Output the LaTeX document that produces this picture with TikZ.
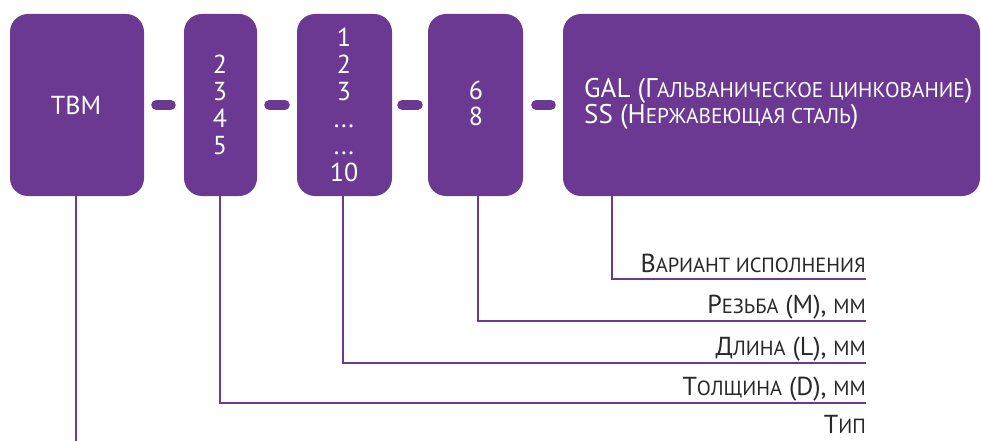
\documentclass[tikz,border=0pt]{standalone}
\usepackage{fontspec}
\setmainfont{PT Sans}
\definecolor{vio}{RGB}{107,57,145}
\definecolor{txt}{RGB}{40,40,40}
\newcommand\smc[1]{{\fontsize{20.5}{20}\selectfont #1}}
\newcommand\smcb[1]{{\fontsize{21.3}{20}\selectfont #1}}
\begin{document}
\begin{tikzpicture}[x=1pt,y=-1pt,
  box/.style={fill=vio,rounded corners=18pt,minimum height=182pt,inner sep=0pt,draw=none},
  wt/.style={text=white,font=\fontsize{26}{26}\selectfont,inner sep=0pt,anchor=base},
  wtb/.style={text=white,font=\fontsize{27}{27}\selectfont,inner sep=0pt,anchor=base west,text height=19pt,text depth=3pt},
  lab/.style={text=txt,font=\fontsize{26}{26}\selectfont,inner sep=0pt,anchor=base east},
  link/.style={vio,line width=10pt,line cap=round},
  lead/.style={vio,line width=2pt}]
\useasboundingbox (0,0) rectangle (981,441);
% boxes
\node[box,minimum width=134pt] (b1) at (77,105) {};
\node[box,minimum width=73pt] (b2) at (220.5,105) {};
\node[box,minimum width=95pt] (b3) at (344.5,105) {};
\node[box,minimum width=95pt] (b4) at (475.5,105) {};
\node[box,minimum width=417pt] (b5) at (771.5,105) {};
% dashes
\draw[link] ([xshift=12pt]b1.east) -- ([xshift=-13pt]b2.west);
\draw[link] ([xshift=12pt]b2.east) -- ([xshift=-12pt]b3.west);
\draw[link] ([xshift=10pt]b3.east) -- ([xshift=-10pt]b4.west);
\draw[link] ([xshift=13pt]b4.east) -- ([xshift=-12pt]b5.west);
% texts in boxes
\node[wt] (t1) at (76,114) {TBM};
\node[wt] (t2a) at (220,73.3) {2};
\node[wt] (t2b) at (220,100) {3};
\node[wt] (t2c) at (220,127.3) {4};
\node[wt] (t2d) at (220,154) {5};
\node[wt] (t3a) at (344,46.7) {1};
\node[wt] (t3b) at (344,73.3) {2};
\node[wt] (t3c) at (344,100) {3};
\node[wt] (t3d) at (344,127.5) {...};
\node[wt] (t3e) at (344,154) {...};
\node[wt] (t3f) at (344,181) {10};
\node[wt] (t4a) at (476,99.5) {6};
\node[wt] (t4b) at (476,125) {8};
\node[wtb] (t5a) at (584,98) {GAL (Г\smcb{АЛЬВАНИЧЕСКОЕ ЦИНКОВАНИЕ})};
\node[wtb] (t5b) at (584,124) {SS (Н\smcb{ЕРЖАВЕЮЩАЯ СТАЛЬ})};
% labels
\node[lab] (l5) at (866,272) {В\smc{АРИАНТ ИСПОЛНЕНИЯ}};
\node[lab] (l4) at (866,313) {Р\smc{ЕЗЬБА} (M), \smc{ММ}};
\node[lab] (l3) at (866,355) {Д\smc{ЛИНА} (L), \smc{ММ}};
\node[lab] (l2) at (866,395) {Т\smc{ОЛЩИНА} (D), \smc{ММ}};
\node[lab] (l1) at (866,433) {Т\smc{ИП}};
% leader ends
\coordinate (e5) at (866,279);
\coordinate (e4) at (866,321);
\coordinate (e3) at (866,363);
\coordinate (e2) at (866,403);
\coordinate (e1) at (76,441);
% leaders
\draw[lead] ([xshift=49pt]b5.south west) |- (e5);
\draw[lead] ([xshift=2.5pt]b4.south) |- (e4);
\draw[lead] ([xshift=-1.5pt]b3.south) |- (e3);
\draw[lead] ([xshift=-0.5pt]b2.south) |- (e2);
\draw[lead] ([xshift=-1pt]b1.south) -- (e1);
\end{tikzpicture}
\end{document}
